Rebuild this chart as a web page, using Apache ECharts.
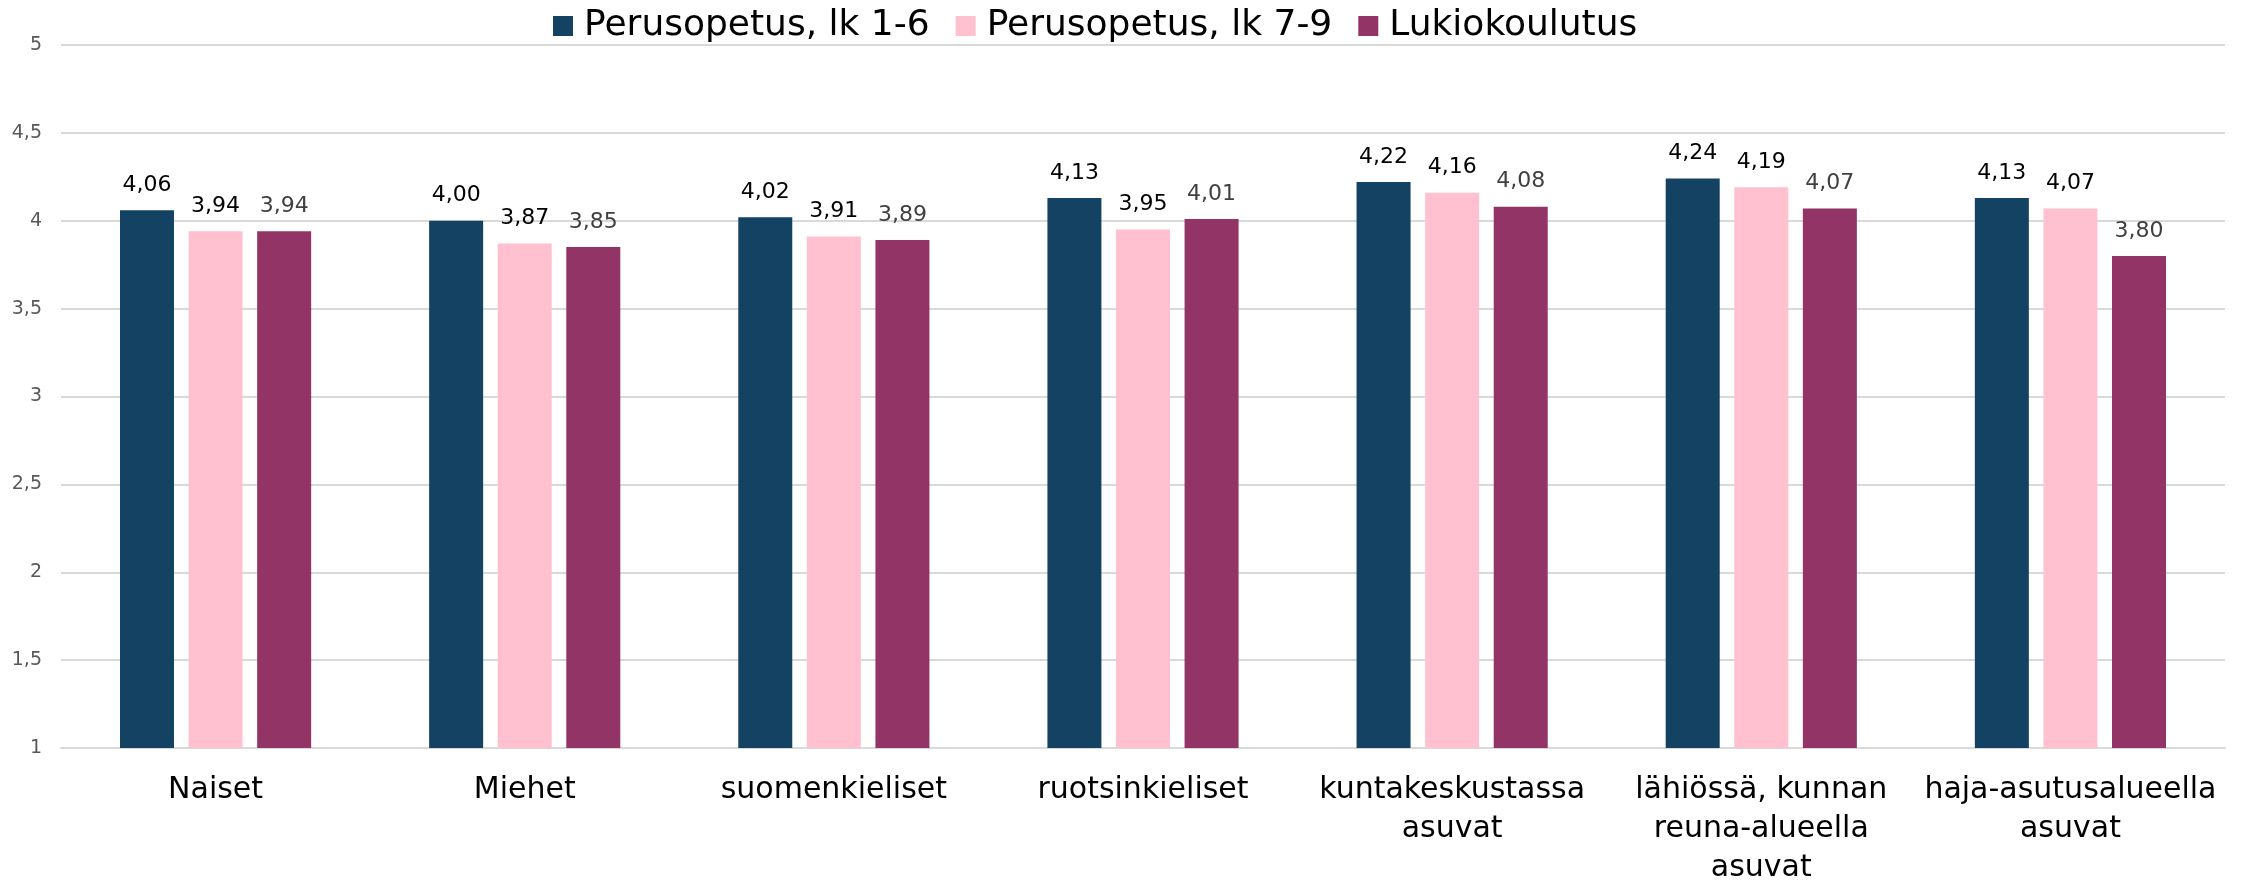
<!DOCTYPE html>
<html>
<head>
<meta charset="utf-8">
<script src="https://cdn.jsdelivr.net/npm/echarts@6/dist/echarts.min.js"></script>
<style>
  html, body { margin: 0; padding: 0; background: #fff; }
  #chart { width: 2251px; height: 888px; }
</style>
</head>
<body>
<div id="chart"></div>
<script>
const categories = [
    'Naiset',
    'Miehet',
    'suomenkieliset',
    'ruotsinkieliset',
    'kuntakeskustassa\nasuvat',
    'lähiössä, kunnan\nreuna-alueella\nasuvat',
    'haja-asutusalueella\nasuvat'
];
const seriesNames = ['Perusopetus, lk 1-6', 'Perusopetus, lk 7-9', 'Lukiokoulutus'];
const lk16 = [4.06, 4.00, 4.02, 4.13, 4.22, 4.24, 4.13];
const lk79 = [3.94, 3.87, 3.91, 3.95, 4.16, 4.19, 4.07];
const lukio = [3.94, 3.85, 3.89, 4.01, 4.08, 4.07, 3.80];
const colors = ['#134263', '#ffc0d0', '#933466'];
const labelColors = ['#000000', '#000000', '#404040'];

const font = '"DejaVu Sans", sans-serif';
const fmt = v => Number(v).toFixed(2).replace('.', ',');

const chart = echarts.init(document.getElementById('chart'), null, { renderer: 'canvas' });

const seriesData = [lk16, lk79, lukio];

chart.setOption({
    backgroundColor: '#ffffff',
    animation: false,
    textStyle: { fontFamily: font },
    legend: {
        top: 3,
        left: 548,
        itemWidth: 20,
        itemHeight: 20,
        itemGap: 26,
        icon: 'rect',
        textStyle: { fontFamily: font, fontSize: 36, color: '#000000', padding: [0, 0, 0, 6] },
        data: seriesNames
    },
    grid: {
        left: 61,
        right: 26,
        top: 45,
        bottom: 131,
        containLabel: false
    },
    xAxis: {
        type: 'category',
        data: categories,
        axisLine: { show: true, lineStyle: { color: '#d9d9d9', width: 2 } },
        axisTick: { show: false },
        axisLabel: {
            interval: 0,
            margin: 23,
            fontFamily: font,
            fontSize: 30,
            lineHeight: 39,
            color: '#000000',
            align: 'center'
        }
    },
    yAxis: {
        type: 'value',
        min: 1,
        max: 5,
        interval: 0.5,
        axisLine: { show: false },
        axisTick: { show: false },
        splitLine: { lineStyle: { color: '#d9d9d9', width: 2 } },
        axisLabel: {
            margin: 19,
            fontFamily: font,
            fontSize: 19,
            color: '#595959',
            formatter: v => String(v).replace('.', ',')
        }
    },
    series: seriesNames.map((name, i) => ({
        name,
        type: 'bar',
        data: seriesData[i],
        barWidth: 54,
        barGap: '27%',
        itemStyle: { color: colors[i] },
        label: {
            show: true,
            position: 'top',
            distance: 14,
            fontFamily: font,
            fontSize: 22,
            color: labelColors[i],
            formatter: p => fmt(p.value)
        }
    }))
});
</script>
</body>
</html>
